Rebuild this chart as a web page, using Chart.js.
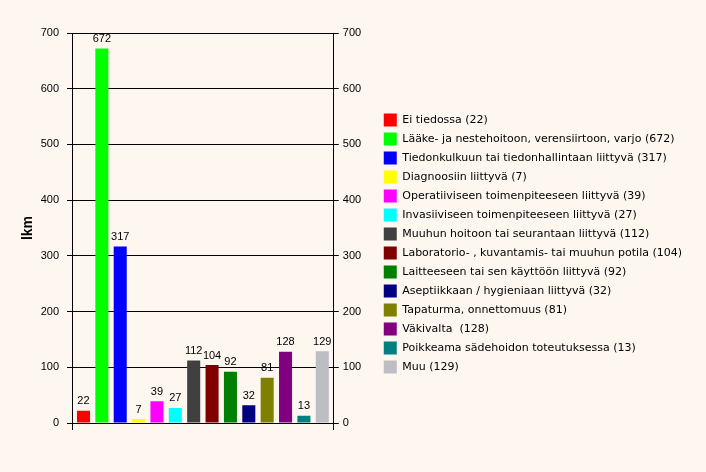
<!DOCTYPE html>
<html>
<head>
<meta charset="utf-8">
<script src="https://cdn.jsdelivr.net/npm/chart.js@4.4.0/dist/chart.umd.min.js"></script>
<style>
  html, body { margin: 0; padding: 0; background: #FDF7F0; }
  #wrap { width: 706px; height: 472px; }
</style>
</head>
<body>
<div id="wrap"><canvas id="chart_plot"></canvas></div>
<script>
// categories (legend text without the count) and their counts
var categories = [
  'Ei tiedossa',
  'Lääke- ja nestehoitoon, verensiirtoon, varjo',
  'Tiedonkulkuun tai tiedonhallintaan liittyvä',
  'Diagnoosiin liittyvä',
  'Operatiiviseen toimenpiteeseen liittyvä',
  'Invasiiviseen toimenpiteeseen liittyvä',
  'Muuhun hoitoon tai seurantaan liittyvä',
  'Laboratorio- , kuvantamis- tai muuhun potila',
  'Laitteeseen tai sen käyttöön liittyvä',
  'Aseptiikkaan / hygieniaan liittyvä',
  'Tapaturma, onnettomuus',
  'Väkivalta ',
  'Poikkeama sädehoidon toteutuksessa',
  'Muu'
];
var counts = [22, 672, 317, 7, 39, 27, 112, 104, 92, 32, 81, 128, 13, 129];
var barColors = [
  '#FF0000', '#00FF00', '#0000FF', '#FFFF00', '#FF00FF', '#00FFFF', '#404040',
  '#800000', '#008000', '#000080', '#808000', '#800080', '#008080', '#BDBDC4'
];
var yTicks = [0, 100, 200, 300, 400, 500, 600, 700];
var yTitle = 'lkm';

// x runs over category indexes, with a bit of room at both ends like the original
var xMin = -0.625;
var xMax = categories.length - 1 + 0.625;

var tickFont = { family: 'Arial, "Liberation Sans"', size: 11 };

// numbers above the bars
var valueLabels = {
  id: 'valueLabels',
  afterDatasetsDraw: function(chart) {
    var ctx = chart.ctx;
    var meta = chart.getDatasetMeta(0);
    ctx.save();
    ctx.font = '11px Arial, "Liberation Sans"';
    ctx.fillStyle = '#000';
    ctx.textAlign = 'center';
    ctx.textBaseline = 'bottom';
    meta.data.forEach(function(bar, i) {
      ctx.fillText(String(counts[i]), bar.x, bar.y - 4);
    });
    ctx.restore();
  }
};

var ctx = document.getElementById('chart_plot');
new Chart(ctx, {
  type: 'bar',
  data: {
    datasets: [{
      label: yTitle,
      data: counts.map(function(v, i) { return { x: i, y: v }; }),
      backgroundColor: barColors,
      borderWidth: 0,
      barPercentage: 0.71,
      categoryPercentage: 1.0
    }]
  },
  options: {
    responsive: true,
    maintainAspectRatio: false,
    animation: false,
    layout: { padding: { top: 33, bottom: 42, left: 0, right: 14 } },
    plugins: {
      tooltip: { enabled: false },
      legend: {
        position: 'right',
        maxWidth: 400,
        title: { display: true, text: '', padding: { top: 5, bottom: 7 }, font: { size: 10 } },
        labels: {
          boxWidth: 13,
          boxHeight: 13,
          padding: 6,
          color: '#000',
          font: { family: 'Verdana, "DejaVu Sans"', size: 11 },
          generateLabels: function(chart) {
            return categories.map(function(name, i) {
              return {
                text: name + ' (' + counts[i] + ')',
                fillStyle: barColors[i],
                strokeStyle: barColors[i],
                fontColor: '#000',
                lineWidth: 0,
                hidden: false,
                index: i
              };
            });
          }
        },
        onClick: function() {}
      }
    },
    scales: {
      x: {
        type: 'linear',
        min: xMin,
        max: xMax,
        offset: false,
        ticks: { display: false, stepSize: xMax - xMin },
        grid: {
          offset: false,
          drawOnChartArea: false,
          tickLength: 7,
          color: function(c) {
            var v = c.tick ? c.tick.value : null;
            return (v === xMin || v === xMax) ? '#000' : 'rgba(0,0,0,0)';
          }
        },
        border: { display: false }
      },
      y: {
        position: 'left',
        min: 0,
        max: 700,
        afterBuildTicks: function(s) { s.ticks = yTicks.map(function(v) { return { value: v }; }); },
        afterFit: function(s) { s.width = 72; },
        ticks: { color: '#000', font: tickFont, padding: 8 },
        grid: { color: '#000', tickLength: 5 },
        border: { color: '#000' },
        title: {
          display: true,
          text: yTitle,
          color: '#000',
          font: { family: 'Arial, "Liberation Sans"', size: 14, weight: 'bold' },
          padding: { top: 20 }
        }
      },
      y2: {
        position: 'right',
        min: 0,
        max: 700,
        afterBuildTicks: function(s) { s.ticks = yTicks.map(function(v) { return { value: v }; }); },
        afterFit: function(s) { s.width = 44; },
        ticks: { color: '#000', font: tickFont, padding: 4 },
        grid: { drawOnChartArea: false, color: '#000', tickLength: 5 },
        border: { color: '#000' }
      }
    }
  },
  plugins: [valueLabels]
});
</script>
</body>
</html>
